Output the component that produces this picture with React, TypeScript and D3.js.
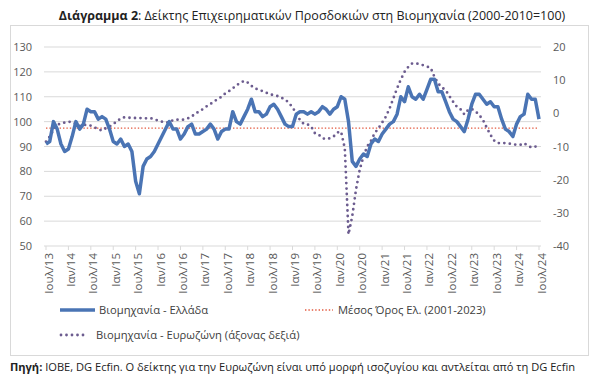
import React, { useEffect, useRef } from 'react';
import * as d3 from 'd3';

// Greece industry business expectations index (2000-2010=100), monthly Jul 2013 - Jul 2024
const greece = [
  91, 92, 100, 97, 91, 88, 89, 94, 100, 97,
  99, 105, 104, 104, 101, 102, 101, 97, 92, 91,
  93, 90, 91, 88, 76, 71, 82, 85, 86, 88,
  91, 94, 97, 100, 97, 97, 93, 95, 98, 99,
  95, 95, 96, 97, 99, 97, 93, 96, 97, 97,
  104, 100, 99, 102, 105, 109, 104, 104, 102, 103,
  106, 107, 105, 102, 99, 98, 98, 103, 104, 104,
  103, 104, 103, 104, 106, 105, 103, 105, 106, 110,
  109, 100, 84, 82, 85, 87, 86, 91, 93, 92,
  95, 97, 99, 100, 103, 110, 108, 114, 110, 109,
  111, 109, 113, 117, 117, 112, 112, 108, 104, 101,
  100, 98, 96, 101, 107, 111, 111, 109, 107, 108,
  106, 106, 101, 97, 96, 94, 99, 102, 103, 111,
  109, 109, 101
];

// Eurozone industry confidence (balance, right axis)
const eurozone = [
  -8.5, -7, -5, -3.5, -3, -2.8, -2.5, -2.7, -3.2, -3.8,
  -3.5, -3.5, -3.7, -4.2, -4.8, -5.2, -4.5, -4, -3.2, -2.5,
  -1.5, -1.2, -1.3, -1.4, -1.4, -1.4, -1.5, -1.5, -1.5, -1.7,
  -2.2, -2.5, -2.7, -2.8, -2.0, -1.9, -1.9, -1.9, -1.5, -1.0,
  0, 0.5, 1.3, 2.1, 2.8, 3.6, 4.3, 5.0, 6, 6.7,
  7.5, 8.5, 9.1, 9.8, 9.3, 8.3, 7.5, 7.1, 6.7, 6.2,
  5.7, 5.5, 5.2, 4.7, 4.2, 3.2, 1.8, 0, -2, -3.2,
  -3.3, -4, -6, -6.4, -7.5, -7.8, -7.5, -7, -5.8, -5.5,
  -10.5, -36.5, -31, -23, -17, -13, -10, -8.3, -6, -4.5,
  -2.8, -1, 1.5, 4.5, 7.5, 10.2, 12.5, 14, 15, 15.1,
  14.8, 14.5, 14.1, 13.7, 11, 9, 7.8, 7, 5.2, 3.5,
  2, 1.2, -0.3, 1.0, 1.3, 0.6, -0.5, -2, -4.3, -6.5,
  -8.2, -9, -8.9, -9, -9.1, -9.3, -9.5, -9.5, -9, -9.8,
  -10.3, -10, -10.5
];

const greekMean = 97.4;

const xTickLabels = [
  'Ιουλ/13', 'Ιαν/14', 'Ιουλ/14', 'Ιαν/15', 'Ιουλ/15', 'Ιαν/16', 'Ιουλ/16', 'Ιαν/17',
  'Ιουλ/17', 'Ιαν/18', 'Ιουλ/18', 'Ιαν/19', 'Ιουλ/19', 'Ιαν/20', 'Ιουλ/20', 'Ιαν/21',
  'Ιουλ/21', 'Ιαν/22', 'Ιουλ/22', 'Ιαν/23', 'Ιουλ/23', 'Ιαν/24', 'Ιουλ/24'
];
const leftTicks = [50, 60, 70, 80, 90, 100, 110, 120, 130];
const rightTicks = [-40, -30, -20, -10, 0, 10, 20];

export default function App() {
  const ref = useRef<SVGSVGElement>(null);

  useEffect(() => {
    if (!ref.current) return;
    const svg = d3.select(ref.current);
    svg.selectAll('*').remove();

    const font = '"Open Sans", "DejaVu Sans", sans-serif';
    const x = d3.scaleLinear().domain([0, greece.length - 1]).range([46, 539]);
    const yL = d3.scaleLinear().domain([50, 130]).range([246, 47]);
    const yR = d3.scaleLinear().domain([-40, 20]).range([246, 47]);

    // frame
    svg.append('rect')
      .attr('x', 10.5).attr('y', 25.5).attr('width', 578).attr('height', 330)
      .attr('fill', '#fff').attr('stroke', '#d9d9d9');

    // title
    const title = svg.append('text')
      .attr('x', 312).attr('y', 20).attr('text-anchor', 'middle')
      .attr('font-family', font).attr('font-size', 12.5).attr('fill', '#222');
    title.append('tspan').attr('font-weight', 'bold').text('Διάγραμμα 2');
    title.append('tspan').text(': Δείκτης Επιχειρηματικών Προσδοκιών στη Βιομηχανία (2000-2010=100)');

    // gridlines
    svg.append('g').selectAll('line')
      .data(leftTicks)
      .join('line')
      .attr('x1', 44).attr('x2', 541)
      .attr('y1', d => yL(d)).attr('y2', d => yL(d))
      .attr('stroke', '#d9d9d9').attr('stroke-width', 1);

    // left labels
    svg.append('g').selectAll('text')
      .data(leftTicks)
      .join('text')
      .attr('x', 32).attr('y', d => yL(d) + 4)
      .attr('text-anchor', 'end')
      .attr('font-family', font).attr('font-size', 11).attr('fill', '#595959')
      .text(d => d);

    // right labels
    svg.append('g').selectAll('text')
      .data(rightTicks)
      .join('text')
      .attr('x', 553).attr('y', d => yR(d) + 4)
      .attr('font-family', font).attr('font-size', 11).attr('fill', '#595959')
      .text(d => d);

    // x ticks + labels
    const xt = svg.append('g');
    xt.selectAll('line')
      .data(xTickLabels)
      .join('line')
      .attr('x1', (d, i) => x(i * 6)).attr('x2', (d, i) => x(i * 6))
      .attr('y1', 246).attr('y2', 250)
      .attr('stroke', '#d9d9d9');
    xt.selectAll('text')
      .data(xTickLabels)
      .join('text')
      .attr('transform', (d, i) => `translate(${x(i * 6) + 6.5},253) rotate(-90)`)
      .attr('text-anchor', 'end')
      .attr('font-family', font).attr('font-size', 11.5).attr('fill', '#595959')
      .text(d => d);

    // mean line
    svg.append('line')
      .attr('x1', x(0)).attr('x2', x(greece.length - 1))
      .attr('y1', yL(greekMean)).attr('y2', yL(greekMean))
      .attr('stroke', '#e3593f').attr('stroke-width', 1.4)
      .attr('stroke-dasharray', '1.4 2');

    // eurozone dotted
    const lineR = d3.line<number>().x((d, i) => x(i)).y(d => yR(d));
    svg.append('path')
      .datum(eurozone)
      .attr('d', lineR)
      .attr('fill', 'none')
      .attr('stroke', '#6c5c8f').attr('stroke-width', 2.8)
      .attr('stroke-linecap', 'round')
      .attr('stroke-dasharray', '0 5.5');

    // greece line
    const lineL = d3.line<number>().x((d, i) => x(i)).y(d => yL(d));
    svg.append('path')
      .datum(greece)
      .attr('d', lineL)
      .attr('fill', 'none')
      .attr('stroke', '#4a74b4').attr('stroke-width', 3.5)
      .attr('stroke-linejoin', 'round');

    // legend
    const lg = svg.append('g').attr('font-family', font).attr('font-size', 11.2).attr('fill', '#404040');
    lg.append('line').attr('x1', 60).attr('x2', 95).attr('y1', 310).attr('y2', 310)
      .attr('stroke', '#4a74b4').attr('stroke-width', 3.5);
    lg.append('text').attr('x', 99).attr('y', 314).text('Βιομηχανία  - Ελλάδα');
    lg.append('line').attr('x1', 305).attr('x2', 333).attr('y1', 310).attr('y2', 310)
      .attr('stroke', '#e3593f').attr('stroke-width', 1.4).attr('stroke-dasharray', '1.4 2');
    lg.append('text').attr('x', 338).attr('y', 314).text('Μέσος Όρος Ελ. (2001-2023)');
    lg.append('line').attr('x1', 61).attr('x2', 84).attr('y1', 335).attr('y2', 335)
      .attr('stroke', '#6c5c8f').attr('stroke-width', 2.8)
      .attr('stroke-linecap', 'round').attr('stroke-dasharray', '0 5.5');
    lg.append('text').attr('x', 96).attr('y', 339).text('Βιομηχανία - Ευρωζώνη (άξονας δεξιά)');

    // source
    const src = svg.append('text')
      .attr('x', 10).attr('y', 371)
      .attr('font-family', font).attr('font-size', 11.1).attr('fill', '#222');
    src.append('tspan').attr('font-weight', 'bold').text('Πηγή:');
    src.append('tspan').text(' IOBE, DG Ecfin. Ο δείκτης για την Ευρωζώνη είναι υπό μορφή ισοζυγίου και αντλείται από τη DG Ecfin');
  }, []);

  return (
    <svg ref={ref} width={600} height={388}
      style={{ position: 'absolute', left: 0, top: 0, background: '#fff' }} />
  );
}
